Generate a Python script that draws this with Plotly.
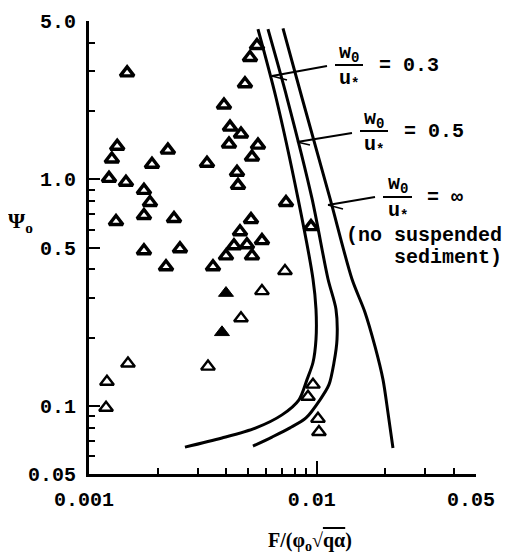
import math
import plotly.graph_objects as go

# ---------------- data ----------------
# heavy open triangles
open_heavy_x = [0.00147, 0.00133, 0.00126, 0.00222, 0.00189, 0.001224, 0.001453, 0.001743,
                0.001852, 0.001743, 0.001314, 0.002361, 0.001743, 0.002508, 0.002178,
                0.005463, 0.005090, 0.004838, 0.003913, 0.004159, 0.004648, 0.004117,
                0.005518, 0.005194, 0.003296, 0.004464, 0.004510, 0.007325, 0.005142,
                0.004601, 0.009430, 0.005745, 0.004330, 0.004938, 0.003994, 0.005194,
                0.003502]
open_heavy_y = [2.95, 1.40, 1.23, 1.345, 1.166, 1.01, 0.970, 0.894,
                0.790, 0.692, 0.651, 0.671, 0.484, 0.494, 0.411,
                3.90, 3.45, 2.64, 2.13, 1.70, 1.585, 1.43,
                1.416, 1.253, 1.178, 1.074, 0.940, 0.790, 0.664,
                0.587, 0.618, 0.536, 0.509, 0.514, 0.459, 0.459,
                0.411]
# light open triangles
open_light_x = [0.007251, 0.005745, 0.004648, 0.001483, 0.003330, 0.001199, 0.001188,
                0.009623, 0.009149, 0.01012, 0.01022]
open_light_y = [0.394, 0.321, 0.2436, 0.1537, 0.149, 0.1278, 0.0980,
                0.1240, 0.1096, 0.0876, 0.0766]
# filled triangles
filled_x = [0.003994, 0.003835]
filled_y = [0.3146, 0.2111]

# curves
curve_03_x = [0.005518, 0.006623, 0.008269, 0.009623, 0.009920, 0.009920, 0.009623,
              0.009057, 0.008353, 0.007034, 0.005407, 0.003835, 0.002638]
curve_03_y = [4.60, 2.291, 0.8235, 0.363, 0.2671, 0.1966, 0.1553,
              0.1305, 0.1063, 0.0912, 0.0799, 0.0721, 0.0657]
curve_05_x = [0.006105, 0.007399, 0.009526, 0.01120, 0.01214, 0.01227, 0.01190,
              0.01131, 0.01033, 0.008966, 0.007626, 0.006359, 0.005247]
curve_05_y = [4.60, 2.291, 0.8235, 0.363, 0.2671, 0.1966, 0.1553,
              0.1240, 0.1063, 0.0884, 0.0799, 0.0728, 0.0664]
curve_inf_x = [0.007106, 0.008610, 0.01143, 0.01427, 0.01627, 0.01801, 0.01953,
               0.02054, 0.02160]
curve_inf_y = [4.64, 2.291, 0.8235, 0.363, 0.2591, 0.1829, 0.1305,
               0.0931, 0.0651]

# ticks
x_tick_vals = [0.001, 0.01, 0.05]
x_tick_text = ["0.001", "0.01", "0.05"]
x_minor_vals = [0.002, 0.003, 0.004, 0.005, 0.006, 0.007, 0.008, 0.009, 0.02, 0.03, 0.04]
y_tick_vals = [0.05, 0.1, 0.5, 1.0, 5.0]
y_tick_text = ["0.05", "0.1", "0.5", "1.0", "5.0"]
y_minor_vals = [0.06, 0.07, 0.08, 0.09, 0.2, 0.3, 0.4, 0.6, 0.7, 0.8, 0.9, 2, 3, 4]

curve_labels = ["0.3", "0.5", "\u221e"]

# ---------------- layout helpers ----------------
# the page body has an 8 px margin, so the figure is drawn 8 px right/down
OFF = 8
W, H = 513 - OFF, 560 - OFF
ML, MR, MT = 89 - OFF, 37, 21 - OFF
PW = W - ML - MR
PH = 453
MB = H - MT - PH
PLOT_L, PLOT_B = ML + OFF, MT + OFF + PH


def P(px, py):
    """pixel position in the screenshot -> paper coordinates"""
    return (px - PLOT_L) / PW, (PLOT_B - py) / PH


MONO = "Liberation Mono"
SERIF = "Liberation Serif"
MONO_FONT = dict(family=MONO, size=20, color="black", weight="bold")

fig = go.Figure()

for cx, cy in [(curve_03_x, curve_03_y), (curve_05_x, curve_05_y), (curve_inf_x, curve_inf_y)]:
    fig.add_trace(go.Scatter(x=cx, y=cy, mode="lines",
                             line=dict(color="black", width=3, shape="spline", smoothing=0.8),
                             showlegend=False, hoverinfo="skip"))

fig.add_trace(go.Scatter(x=open_heavy_x, y=open_heavy_y, mode="markers",
                         marker=dict(symbol="triangle-up-open", size=12,
                                     line=dict(color="black", width=3.4), color="black"),
                         showlegend=False))
fig.add_trace(go.Scatter(x=open_light_x, y=open_light_y, mode="markers",
                         marker=dict(symbol="triangle-up-open", size=12,
                                     line=dict(color="black", width=2.4), color="black"),
                         showlegend=False))
fig.add_trace(go.Scatter(x=filled_x, y=filled_y, mode="markers",
                         marker=dict(symbol="triangle-up", size=13, color="black",
                                     line=dict(color="black", width=1)),
                         showlegend=False))
# invisible trace that carries the overlay axes (minor ticks)
fig.add_trace(go.Scatter(x=[x_tick_vals[0]], y=[y_tick_vals[0]], xaxis="x2", yaxis="y2",
                         mode="markers", marker=dict(opacity=0), showlegend=False,
                         hoverinfo="skip"))

annotations = []
shapes = []

# fraction labels: (bar left px, bar right px, bar y px, label text, label left px)
frac_specs = [
    (335, 363, 65, curve_labels[0], 377),
    (360, 388, 131, curve_labels[1], 402),
    (383, 412, 197, curve_labels[2], 425),
]
for (bl, br, by, lab, lx) in frac_specs:
    cxp = (bl + br) / 2
    x0, y0 = P(bl, by)
    x1, _ = P(br, by)
    shapes.append(dict(type="line", xref="paper", yref="paper", x0=x0, x1=x1, y0=y0, y1=y0,
                       line=dict(color="black", width=2)))
    ax_, ay_ = P(cxp, by - 12)
    annotations.append(dict(text="w<sub>0</sub>", x=ax_, y=ay_, xref="paper", yref="paper",
                            xanchor="center", yanchor="middle", showarrow=False,
                            font=MONO_FONT))
    ax_, ay_ = P(cxp, by + 14)
    annotations.append(dict(text="u<sub>*</sub>", x=ax_, y=ay_, xref="paper", yref="paper",
                            xanchor="center", yanchor="middle", showarrow=False,
                            font=MONO_FONT))
    ax_, ay_ = P(lx, by)
    annotations.append(dict(text="= " + lab, x=ax_, y=ay_, xref="paper", yref="paper",
                            xanchor="left", yanchor="middle", showarrow=False,
                            font=MONO_FONT))

# leader lines with small barbs
leaders = [
    ((327, 66), (272, 76), (287, 80)),
    ((352, 133), (297, 142), (310, 145)),
    ((375, 197), (328, 205), (343, 209)),
]
for (a, b, c) in leaders:
    xa, ya = P(*a)
    xb, yb = P(*b)
    xc, yc = P(*c)
    shapes.append(dict(type="line", xref="paper", yref="paper", x0=xa, y0=ya, x1=xb, y1=yb,
                       line=dict(color="black", width=2)))
    shapes.append(dict(type="line", xref="paper", yref="paper", x0=xb, y0=yb, x1=xc, y1=yc,
                       line=dict(color="black", width=1.5)))

x_, y_ = P(503, 235)
annotations.append(dict(text="(no suspended", x=x_, y=y_, xref="paper", yref="paper",
                        xanchor="right", yanchor="middle", showarrow=False,
                        borderpad=0, font=MONO_FONT))
x_, y_ = P(503, 257)
annotations.append(dict(text="sediment)", x=x_, y=y_, xref="paper", yref="paper",
                        xanchor="right", yanchor="middle", showarrow=False,
                        borderpad=0, font=MONO_FONT))

# axis titles
x_, y_ = P(20, 222)
annotations.append(dict(text="<b>\u03a8<sub>o</sub></b>", x=x_, y=y_, xref="paper", yref="paper",
                        xanchor="center", yanchor="middle", showarrow=False,
                        font=dict(family=SERIF, size=22, color="black")))
x_, y_ = P(310, 541)
annotations.append(dict(text="<b>F/(\u03c6<sub>o</sub>\u221a<span style='text-decoration:overline'>q\u03b1</span>)</b>",
                        x=x_, y=y_, xref="paper", yref="paper",
                        xanchor="center", yanchor="middle", showarrow=False,
                        font=dict(family=SERIF, size=20, color="black")))

xrange_ = [math.log10(0.001), math.log10(0.05)]
yrange_ = [math.log10(0.05), math.log10(5.0)]

fig.update_layout(
    width=W, height=H,
    margin=dict(l=ML, r=MR, t=MT, b=MB, autoexpand=False),
    paper_bgcolor="white", plot_bgcolor="white",
    showlegend=False,
    annotations=annotations,
    shapes=shapes,
    xaxis=dict(type="log", range=xrange_,
               tickmode="array", tickvals=x_tick_vals, ticktext=x_tick_text,
               ticks="inside", ticklen=13, tickwidth=2, tickcolor="black",
               showgrid=False, zeroline=False, showline=True, linewidth=3, linecolor="black",
               tickfont=MONO_FONT,
               ticklabelstandoff=5, ticklabelshift=-5),
    yaxis=dict(type="log", range=yrange_,
               tickmode="array", tickvals=y_tick_vals, ticktext=y_tick_text,
               ticks="inside", ticklen=11, tickwidth=2, tickcolor="black",
               showgrid=False, zeroline=False, showline=True, linewidth=3, linecolor="black",
               tickfont=MONO_FONT,
               ticklabelstandoff=6),
    xaxis2=dict(type="log", range=xrange_, overlaying="x", anchor="y2", side="bottom",
                tickmode="array", tickvals=x_minor_vals, ticks="inside", ticklen=6,
                tickwidth=2, tickcolor="black", showticklabels=False,
                showgrid=False, zeroline=False, showline=False),
    yaxis2=dict(type="log", range=yrange_, overlaying="y", anchor="x2", side="left",
                tickmode="array", tickvals=y_minor_vals, ticks="inside", ticklen=6,
                tickwidth=2, tickcolor="black", showticklabels=False,
                showgrid=False, zeroline=False, showline=False),
)

fig.write_html("out.html")
